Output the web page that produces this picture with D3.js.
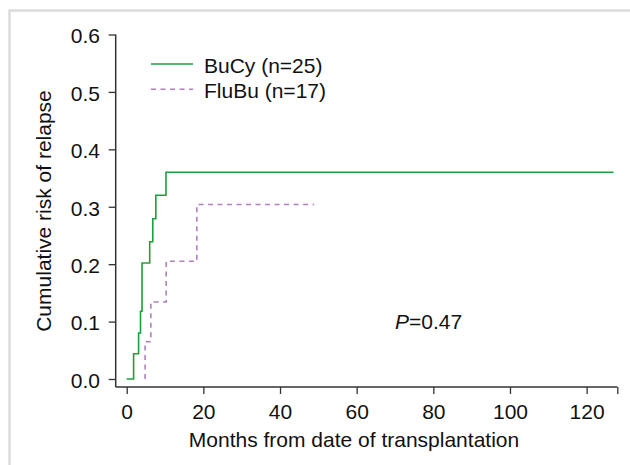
<!DOCTYPE html>
<html>
<head>
<script src="https://cdn.jsdelivr.net/npm/d3@7/dist/d3.min.js"></script>
<style>
  body { margin: 0; background: #fff; }
  text { font-family: "Liberation Sans", Arial, sans-serif; fill: #111; }
</style>
</head>
<body>
<div id="chart"></div>
<script>
// cumulative incidence of relapse
var bucyMonths = [0, 1.8, 3.1, 3.6, 4.0, 6.0, 6.8, 7.6, 10.25, 127];
var bucyRisk   = [0, 0.044, 0.080, 0.118, 0.202, 0.239, 0.279, 0.320, 0.360, 0.360];
var flubuMonths = [4.8, 4.8, 6.3, 10.3, 18.3, 48.9];
var flubuRisk   = [0, 0.065, 0.134, 0.205, 0.304, 0.304];

var xTicks = [0, 20, 40, 60, 80, 100, 120];
var yTicks = [0, 0.1, 0.2, 0.3, 0.4, 0.5, 0.6];
var legendLabels = ['BuCy (n=25)', 'FluBu (n=17)'];
var pLabel = '0.47';

const w = 630, h = 465;
const fs = 21;

const svg = d3.select('#chart').append('svg')
    .attr('width', w).attr('height', h);

// light frame around the figure
svg.append('rect')
    .attr('x', 9.5).attr('y', 10.5)
    .attr('width', 700).attr('height', 600)
    .attr('fill', 'none').attr('stroke', '#dcdcdc').attr('stroke-width', 2.5);

const x = d3.scaleLinear().domain([0, 128]).range([126.7, 617.3]);
const y = d3.scaleLinear().domain([0, 0.6]).range([379, 34.5]);
const axisY = 387, axisX = 115.7;

const axisColor = '#333';

// x axis
const gx = svg.append('g').attr('transform', `translate(0,${axisY})`);
gx.call(d3.axisBottom(x).tickValues(xTicks.concat([128])).tickSize(7).tickFormat(d => xTicks.includes(d) ? d : ''));
gx.select('.domain').remove();
gx.append('line').attr('x1', axisX).attr('x2', x(128)).attr('stroke', axisColor).attr('stroke-width', 1.5);
gx.selectAll('.tick line').attr('stroke', axisColor).attr('stroke-width', 1.3);
gx.selectAll('.tick text')
    .attr('y', 31.5).attr('dy', null)
    .attr('font-size', fs).attr('font-family', '"Liberation Sans", Arial, sans-serif').attr('fill', '#111');

// y axis
const gy = svg.append('g').attr('transform', `translate(${axisX},0)`);
gy.call(d3.axisLeft(y).tickValues(yTicks).tickSize(7).tickFormat(d3.format('.1f')));
gy.select('.domain').remove();
gy.append('line').attr('y1', y(0.6)).attr('y2', axisY).attr('stroke', axisColor).attr('stroke-width', 1.5);
gy.selectAll('.tick line').attr('stroke', axisColor).attr('stroke-width', 1.3);
gy.selectAll('.tick text')
    .attr('x', -15.7).attr('dy', '0.4em')
    .attr('font-size', fs).attr('font-family', '"Liberation Sans", Arial, sans-serif').attr('fill', '#111');

// axis titles
svg.append('text')
    .attr('x', 354).attr('y', 446.5)
    .attr('text-anchor', 'middle').attr('font-size', 21)
    .text('Months from date of transplantation');

svg.append('text')
    .attr('transform', 'translate(51,211) rotate(-90)')
    .attr('text-anchor', 'middle').attr('font-size', 21)
    .text('Cumulative risk of relapse');

// curves
const line = d3.line().x(d => x(d[0])).y(d => y(d[1])).curve(d3.curveStepAfter);

svg.append('path')
    .datum(d3.zip(bucyMonths, bucyRisk))
    .attr('d', line)
    .attr('fill', 'none').attr('stroke', '#1f9e3c').attr('stroke-width', 1.6);

svg.append('path')
    .datum(d3.zip(flubuMonths, flubuRisk))
    .attr('d', line)
    .attr('fill', 'none').attr('stroke', '#b27ec0').attr('stroke-width', 1.6)
    .attr('stroke-dasharray', '5,4.5');

// legend
const legend = svg.append('g');
legend.append('line').attr('x1', 151).attr('x2', 193).attr('y1', 64).attr('y2', 64)
    .attr('stroke', '#1f9e3c').attr('stroke-width', 1.6);
legend.append('line').attr('x1', 151).attr('x2', 193).attr('y1', 89.3).attr('y2', 89.3)
    .attr('stroke', '#b27ec0').attr('stroke-width', 1.6).attr('stroke-dasharray', '5,4.5');
legend.append('text').attr('x', 204).attr('y', 73.3).attr('font-size', 21).text(legendLabels[0]);
legend.append('text').attr('x', 204).attr('y', 97.8).attr('font-size', 21).text(legendLabels[1]);

// p value
const p = svg.append('text').attr('x', 395).attr('y', 328.5).attr('font-size', 21);
p.append('tspan').attr('font-style', 'italic').text('P');
p.append('tspan').text('=' + pLabel);
</script>
</body>
</html>
